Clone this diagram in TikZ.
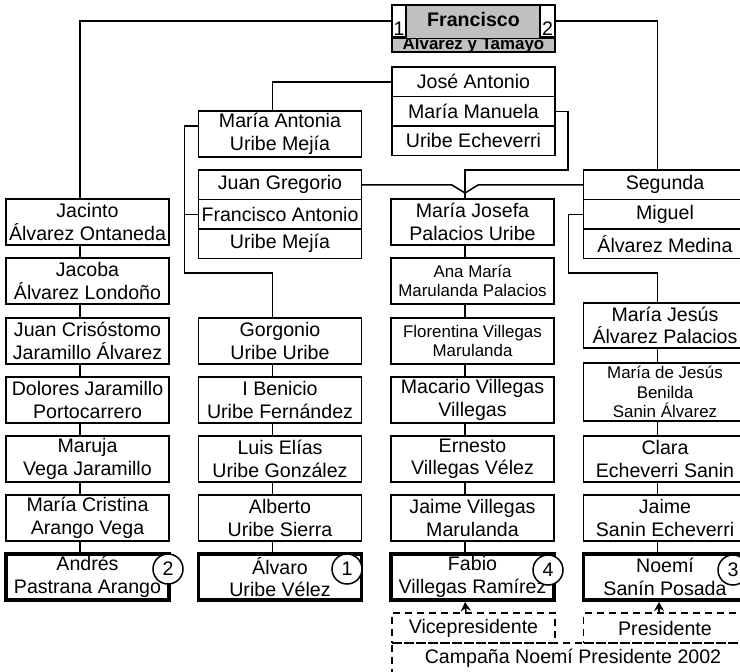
\documentclass[tikz,border=0pt]{standalone}
\usepackage{fontspec}
\setmainfont{Liberation Sans}
\usetikzlibrary{arrows.meta}
\definecolor{silver}{RGB}{192,192,192}
\newcommand{\normtxt}{\fontsize{19.6}{22.5}\selectfont}
\newcommand{\smalltxt}{\fontsize{16.9}{19.5}\selectfont}

\begin{document}
\begin{tikzpicture}[x=1pt, y=-1pt, line width=1.5pt,
	every node/.append style={inner sep=0pt, outer sep=0pt, font=\normtxt},
	person/.style={draw, anchor=north west, minimum width=163pt, minimum height=46pt, align=center},
	row/.style={person, minimum height=29.5pt},
	elect/.style={person, line width=3.6pt},
	tag/.style={draw, circle, fill=white, minimum size=30pt},
	post/.style={draw, dash pattern=on 7pt off 5pt, anchor=north west, minimum height=30pt},
	vote/.style={dash pattern=on 7pt off 5pt, -{Stealth[length=9pt, width=10pt]}}]
	\fill[white] (0,0) rectangle (740,672);
	\clip (0,0) rectangle (740,672);

	% Francisco
	\node (fran) [draw, fill=silver, anchor=north west, minimum width=163pt, minimum height=47pt] at (392,5) {};
	\node (franA) [anchor=base] at (473.5,26.5) {\bfseries Francisco};
	\begin{scope}
		\clip (fran.west |- 0,39) rectangle (fran.south east);
		\node (franB) [anchor=base] at (473.5,49.5) {\fontsize{16.9}{19}\selectfont\bfseries Álvarez y Tamayo};
	\end{scope}
	\draw ([yshift=-33.5pt]fran.north west) -- ([yshift=-33.5pt]fran.north east);
	\node (one) [draw, fill=white, anchor=north west, minimum width=14pt, minimum height=32pt, text height=28pt, text depth=0pt] at (392,5) {1};
	\node (two) [draw, fill=white, anchor=north east, minimum width=15pt, minimum height=32pt, text height=28pt, text depth=0pt] at (fran.north east) {2};

	% column 1
	\node (jacinto) [person] at (6,199) {Jacinto\\Álvarez Ontaneda};
	\node (jacoba) [person] at (6,258) {Jacoba\\Álvarez Londoño};
	\node (juancris) [person] at (6,318) {Juan Crisóstomo\\Jaramillo Álvarez};
	\node (dolores) [person] at (6,377) {Dolores Jaramillo\\Portocarrero};
	\node (maruja) [person] at (6,436) {Maruja\\Vega Jaramillo};
	\node (mcristina) [person] at (6,495) {María Cristina\\Arango Vega};
	\node (andres) [elect] at (6,554) {Andrés\\Pastrana Arango};

	% column 2
	\node (mantonia) [person] at (198.5,111) {María Antonia\\Uribe Mejía};
	\node (jgregorio) [row] at (198.5,170) {Juan Gregorio};
	\node (fantonio) [row] at (198.5,199.5) {Francisco Antonio};
	\node (umejia) [row] at (198.5,229) {Uribe Mejía};
	\node (gorgonio) [person] at (198.5,318) {Gorgonio\\Uribe Uribe};
	\node (benicio) [person] at (198.5,377) {I Benicio\\Uribe Fernández};
	\node (luis) [person] at (198.5,436) {Luis Elías\\Uribe González};
	\node (alberto) [person] at (198.5,495) {Alberto\\Uribe Sierra};
	\node (alvaro) [elect] at (198.5,554) {Álvaro\\Uribe Vélez};

	% column 3
	\node (jose) [row] at (392,67) {José Antonio};
	\node (mmanuela) [row] at (392,96.5) {María Manuela};
	\node (uecheverri) [row] at (392,126) {Uribe Echeverri};
	\node (mjosefa) [person] at (391,199) {María Josefa\\Palacios Uribe};
	\node (anamaria) [person, font=\smalltxt] at (391,258) {Ana María\\Marulanda Palacios};
	\node (florentina) [person, font=\smalltxt] at (391,318) {Florentina Villegas\\Marulanda};
	\node (macario) [person] at (391,377) {Macario Villegas\\Villegas};
	\node (ernesto) [person] at (391,436) {Ernesto\\Villegas Vélez};
	\node (jaimev) [person] at (391,495) {Jaime Villegas\\Marulanda};
	\node (fabio) [elect] at (391,554) {Fabio\\Villegas Ramírez};

	% column 4
	\node (segunda) [row] at (583.5,170) {Segunda};
	\node (miguel) [row] at (583.5,199.5) {Miguel};
	\node (amedina) [row] at (583.5,229) {Álvarez Medina};
	\node (mjesus) [person, minimum height=45pt] at (583.5,303) {María Jesús\\Álvarez Palacios};
	\node (benilda) [person, font=\smalltxt, minimum height=58pt] at (583.5,363) {María de Jesús\\Benilda\\Sanin Álvarez};
	\node (clara) [person] at (583.5,436) {Clara\\Echeverri Sanin};
	\node (jaimes) [person] at (583.5,495) {Jaime\\Sanin Echeverri};
	\node (noemi) [elect] at (583.5,554) {Noemí\\Sanín Posada};

	% numbers
	\node (tag2) [tag] at (168,569) {2};
	\node (tag1) [tag] at (347,569) {1};
	\node (tag4) [tag] at (548,570) {4};
	\node (tag3) [tag] at (733,570) {3};

	% campaign
	\node (vice) [post, minimum width=163pt] at (392,613) {Vicepresidente};
	\node (pres) [post, minimum width=163pt] at (583.5,613) {Presidente};
	\node (campaign) [post, minimum width=362pt] at (392,643) {Campaña Noemí Presidente 2002};
	\draw [vote] ([xshift=-7.5pt]vice.north) -- ([xshift=-7.5pt, yshift=-2pt]fabio.south);
	\draw [vote] ([xshift=-6pt]pres.north) -- ([xshift=-6pt, yshift=-2pt]noemi.south);

	% lines
	\draw (one.west) -| ([xshift=-7.5pt]jacinto.north);
	\draw (two.east) -| ([xshift=-7.5pt]segunda.north);
	\draw (jose.west) -| ([xshift=-7.5pt]mantonia.north);
	\coordinate (knot) at (465,193);
	\draw (mmanuela.east) -- ++(13,0) |- (knot |- jgregorio.north) -- (knot);
	\draw (jgregorio.east) -- ++(90,0) -- (knot);
	\draw (segunda.west) -- ++(-105,0) -- (knot);
	\draw (knot) -- ([xshift=-7.5pt]mjosefa.north);
	\draw ([yshift=8pt]mantonia.west) -- ++(-14,0) |- ([xshift=-7.5pt, yshift=45pt]gorgonio.north) -- ([xshift=-7.5pt]gorgonio.north);
	\draw (fantonio.west) -- ++(-14,0);
	\draw (miguel.west) -- ++(-15,0) |- ([xshift=-7.5pt, yshift=30pt]mjesus.north) -- ([xshift=-7.5pt]mjesus.north);
	\foreach \a/\b in {jacinto/jacoba, jacoba/juancris, juancris/dolores, dolores/maruja, maruja/mcristina, mcristina/andres,
		gorgonio/benicio, benicio/luis, luis/alberto, alberto/alvaro,
		mjosefa/anamaria, anamaria/florentina, florentina/macario, macario/ernesto, ernesto/jaimev, jaimev/fabio,
		mjesus/benilda, benilda/clara, clara/jaimes, jaimes/noemi}
		\draw ([xshift=-7.5pt]\a.south) -- ([xshift=-7.5pt]\b.north);
\end{tikzpicture}
\end{document}
